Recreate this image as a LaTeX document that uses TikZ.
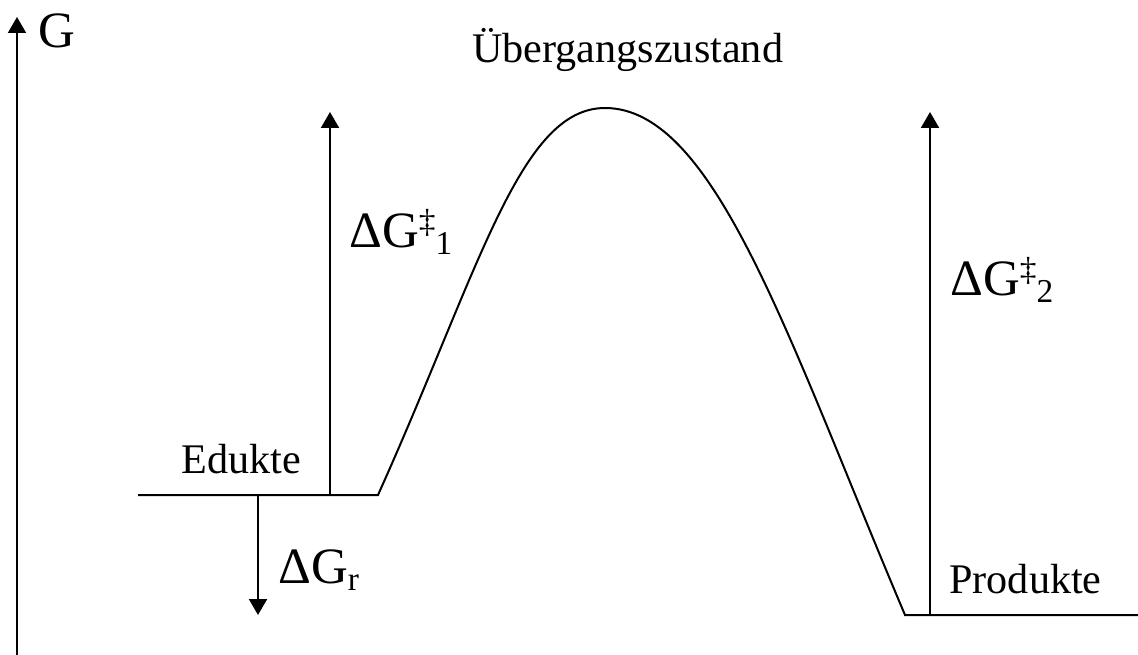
\documentclass[tikz,border=0pt]{standalone}
\usepackage{fontspec}
\setmainfont{Liberation Serif}
\usetikzlibrary{arrows.meta}

\newcommand{\gross}{\fontsize{29}{32}\selectfont}
\newcommand{\klein}{\fontsize{19}{21}\selectfont}
\newcommand{\hoch}[1]{\raisebox{8pt}{\klein #1}}
\newcommand{\tief}[1]{\raisebox{-4pt}{\klein #1}}

\tikzset{
  linie/.style={line width=0.04cm},
  pfeil/.style={linie, -{Triangle[width=0.36cm,length=0.32cm]}},
  beschr/.style={anchor=base west, inner sep=0pt, font=\fontsize{24}{28}\selectfont},
  gbeschr/.style={anchor=base west, inner sep=0pt, font=\gross}
}

\begin{document}
\begin{tikzpicture}[x=0.02cm, y=-0.02cm]
  \useasboundingbox (0,0) rectangle (1138,655);

  \coordinate (ax0) at (17,655);
  \coordinate (ax1) at (17,17);
  \coordinate (ed0) at (138,495);   % Edukte
  \coordinate (ed1) at (378,495);
  \coordinate (ts)  at (605,108);   % Maximum
  \coordinate (pr0) at (905,615);   % Produkte
  \coordinate (pr1) at (1138,615);
  \coordinate (a1u) at (330,495);
  \coordinate (a1o) at (330,112);
  \coordinate (a2u) at (930,615);
  \coordinate (a2o) at (930,112);
  \coordinate (aru) at (258,495);
  \coordinate (aro) at (258,615);

  % Achse
  \draw[pfeil] (ax0) -- (ax1);

  % Energieverlauf
  \draw[linie] (ed0) -- (ed1)
    .. controls (480,268) and (520,108) .. (ts)
    .. controls (715,108) and (788,339) .. (pr0) -- (pr1);

  % Pfeile
  \draw[pfeil] (a1u) -- (a1o);
  \draw[pfeil] (a2u) -- (a2o);
  \draw[pfeil] (aru) -- (aro);

  % Beschriftung
  \node[gbeschr] (lblG) at (38,48) {G};
  \node[beschr] (uez) at (472,63) {Übergangszustand};
  \node[beschr] (edukte) at (181,473) {Edukte};
  \node[beschr] (produkte) at (949,593) {Produkte};
  \node[gbeschr] (dg1) at (349,247) {ΔG\hoch{‡}\tief{1}};
  \node[gbeschr] (dg2) at (950,295) {ΔG\hoch{‡}\tief{2}};
  \node[gbeschr] (dgr) at (278,583) {ΔG\tief{r}};
\end{tikzpicture}
\end{document}
